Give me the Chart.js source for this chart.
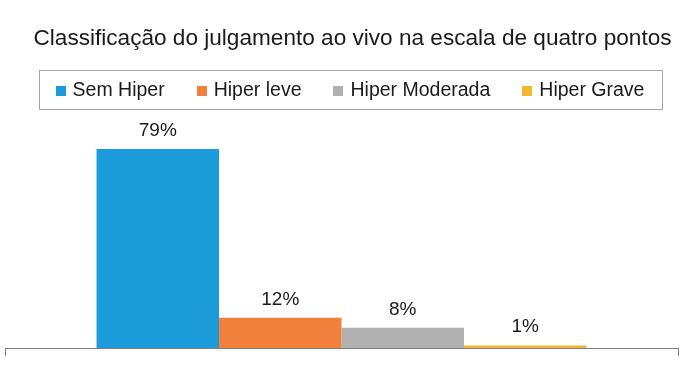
<!DOCTYPE html>
<html>
<head>
<meta charset="utf-8">
<script src="https://cdn.jsdelivr.net/npm/chart.js@4.4.1/dist/chart.umd.min.js"></script>
<style>
html,body{margin:0;padding:0;background:#ffffff;}
#wrap{width:700px;height:365px;}
</style>
</head>
<body>
<div id="wrap"><canvas id="c" width="700" height="365"></canvas></div>
<script>
const titleText = 'Classificação do julgamento ao vivo na escala de quatro pontos';
const categories = [''];
const seriesNames = ['Sem Hiper', 'Hiper leve', 'Hiper Moderada', 'Hiper Grave'];
const seriesValues = [79, 12, 8, 1];
const seriesColors = ['#1b9bd7', '#f0803c', '#b1b1b1', '#f4b731'];

const FONT = '"Liberation Sans", Arial, Helvetica, sans-serif';

const boxedLegend = {
  id: 'boxedLegend',
  afterDraw(chart, args, o) {
    const ctx = chart.ctx;
    ctx.save();
    ctx.font = o.fontSize + 'px ' + FONT;
    const items = chart.data.datasets.map(ds => ({
      text: ds.label, color: ds.backgroundColor, w: ctx.measureText(ds.label).width
    }));
    const total = items.reduce((s, it) => s + o.boxSize + o.boxGap + it.w, 0) + o.itemGap * (items.length - 1);
    let x = chart.width / 2 - total / 2;
    ctx.strokeStyle = o.borderColor;
    ctx.lineWidth = 1;
    ctx.strokeRect(Math.round(x - o.padX) + 0.5, o.top + 0.5, Math.round(total + 2 * o.padX), o.height);
    ctx.textAlign = 'left';
    ctx.textBaseline = 'alphabetic';
    items.forEach(it => {
      ctx.fillStyle = it.color;
      ctx.fillRect(Math.round(x), o.boxTop, o.boxSize, o.boxSize);
      x += o.boxSize + o.boxGap;
      ctx.fillStyle = o.color;
      ctx.fillText(it.text, x, o.baseline);
      x += it.w + o.itemGap;
    });
    ctx.restore();
  }
};

const valueLabels = {
  id: 'valueLabels',
  afterDatasetsDraw(chart, args, o) {
    const ctx = chart.ctx;
    ctx.save();
    ctx.font = o.fontSize + 'px ' + FONT;
    ctx.fillStyle = o.color;
    ctx.textAlign = 'center';
    ctx.textBaseline = 'alphabetic';
    chart.data.datasets.forEach((ds, i) => {
      const meta = chart.getDatasetMeta(i);
      meta.data.forEach((el, j) => {
        ctx.fillText(ds.data[j] + '%', el.x, el.y - o.offset);
      });
    });
    ctx.restore();
  }
};

new Chart(document.getElementById('c'), {
  type: 'bar',
  data: {
    labels: categories,
    datasets: seriesNames.map((name, i) => ({
      label: name,
      data: [seriesValues[i]],
      backgroundColor: seriesColors[i],
      borderWidth: 0,
      categoryPercentage: 0.728,
      barPercentage: 1.0
    }))
  },
  options: {
    responsive: false,
    animation: false,
    devicePixelRatio: 1,
    layout: { padding: { left: 5, right: 0, top: 0, bottom: 9 } },
    plugins: {
      legend: { display: false },
      tooltip: { enabled: false },
      title: {
        display: true,
        text: titleText,
        color: '#1a1a1a',
        font: { family: FONT, size: 22.6, weight: 'normal' },
        padding: { top: 25, bottom: 57.3 }
      },
      boxedLegend: {
        fontSize: 19.5, boxSize: 10, boxGap: 7, itemGap: 32, padX: 17,
        top: 70, height: 39, boxTop: 86, baseline: 96,
        color: '#1a1a1a', borderColor: '#a6a6a6'
      },
      valueLabels: { fontSize: 19, color: '#1a1a1a', offset: 13 }
    },
    scales: {
      x: {
        ticks: { display: false },
        grid: { display: true, drawOnChartArea: false, drawTicks: true, tickLength: 8, color: '#808080', lineWidth: 1 },
        border: { display: true, color: '#808080', width: 1 }
      },
      y: { display: false, min: 0, max: 94.7 },
      yPad: {
        position: 'right', display: true,
        ticks: { display: false }, grid: { display: false }, border: { display: false },
        afterFit: (s) => { s.width = 22; }
      }
    }
  },
  plugins: [boxedLegend, valueLabels]
});
</script>
</body>
</html>
